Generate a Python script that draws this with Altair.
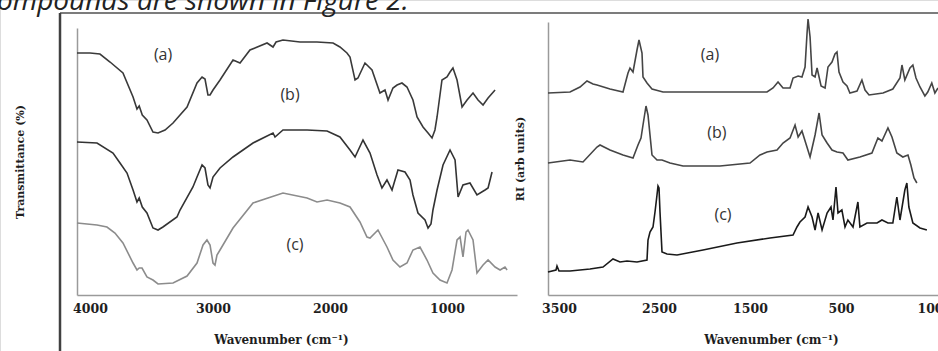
import altair as alt
import pandas as pd

caption = "ompounds are shown in Figure 2."

# ---- IR spectra (left panel): wavenumber (cm-1) and offset transmittance (arb.)
ir_a_wn = [4106,4000,3919,3837,3732,3650,3618,3600,3575,3537,3488,3447,3390,3325,3211,3130,3089,3065,3041,3024,3000,2940,2829,2769,2684,2538,2487,2461,2402,2256,2111,1974,1915,1855,1829,1786,1761,1701,1641,1573,1530,1504,1462,1427,1385,1342,1291,1256,1205,1162,1128,1103,1085,1043,1000,974,949,914,871,828,777,734,691,648,588]
ir_a_t = [242,242,241,233,222,198,186,189,180,175,163,162,165,172,188,212,218,216,200,200,205,215,235,232,245,252,248,253,255,253,253,252,248,242,238,215,217,232,225,202,205,195,207,210,212,208,195,178,168,162,157,165,178,215,218,223,227,215,188,195,202,195,190,197,205]

ir_b_wn = [4106,3943,3813,3756,3699,3650,3618,3600,3575,3537,3488,3447,3407,3293,3268,3163,3130,3089,3065,3041,3024,3000,2940,2829,2658,2487,2470,2402,2196,2025,1915,1829,1786,1718,1658,1598,1556,1513,1470,1419,1359,1316,1291,1248,1188,1162,1137,1120,1085,1034,974,931,905,863,803,743,674,648,614]
ir_b_t = [153,152,142,132,122,105,93,97,88,82,67,65,68,78,85,108,118,130,127,110,107,118,127,138,152,162,158,165,165,164,158,145,138,155,142,120,107,115,105,125,123,115,100,82,75,67,71,85,105,130,145,135,98,110,112,100,105,107,123]

ir_c_wn = [4106,3943,3862,3797,3732,3650,3618,3600,3577,3537,3488,3447,3325,3211,3130,3081,3049,3024,3000,2983,2966,2940,2829,2658,2402,2196,2111,2025,1915,1829,1744,1684,1658,1590,1513,1462,1402,1342,1291,1231,1171,1120,1060,1000,957,914,888,863,837,820,777,743,691,648,588,545,503,485]
ir_c_t = [72,70,68,62,52,32,25,27,27,18,15,11,12,19,32,50,55,50,32,30,40,45,67,92,102,97,93,95,92,88,73,58,57,65,48,35,28,32,45,48,35,22,15,12,25,55,58,38,63,65,55,22,30,35,28,25,28,25]

ir_label_text = ["(a)", "(b)", "(c)"]
ir_label_wn = [3406, 2342, 2299]
ir_label_t = [240, 200, 50]
ir_ticks = [4000, 3000, 2000, 1000]

# ---- Raman spectra (right panel): wavenumber (cm-1) and relative intensity (arb.)
ra_a_wn = [3610,3390,3290,3220,3160,3120,2990,2860,2810,2790,2760,2720,2700,2670,2660,2620,2570,2456,2016,1313,1247,1192,1137,1060,1027,971,929,895,873,862,840,818,785,763,719,675,643,599,566,544,522,491,473,460,428,406,392,374,311,267,235,226,213,190,177,163,145,123,110,92,78,64]
ra_a_i = [202,203,208,214,211,210,206,203,222,227,223,245,255,242,218,212,206,203,203,203,207,213,207,207,217,219,218,228,262,276,258,220,218,227,209,207,228,233,241,243,223,213,209,202,204,215,205,200,202,206,217,230,215,227,230,217,208,199,203,212,202,207]

ra_b_wn = [3610,3390,3260,3120,3090,2990,2860,2760,2710,2680,2660,2630,2610,2570,2520,2467,2379,2236,1830,1500,1390,1313,1203,1137,1060,1005,971,929,840,785,741,708,653,599,544,491,469,415,361,334,316,289,271,249,222,199,186,172,159]
ra_b_i = [132,135,133,148,150,145,140,137,150,157,170,189,180,140,135,135,132,129,129,132,140,143,145,152,157,170,158,164,138,160,182,160,152,145,143,142,135,138,142,157,154,167,158,142,138,140,130,117,112]

ra_c_wn = [3610,3530,3520,3500,3390,3190,3060,2960,2890,2820,2720,2620,2610,2590,2560,2540,2520,2510,2500,2489,2467,2412,2302,2016,1643,1280,1027,984,951,895,862,818,785,752,708,653,610,588,555,533,496,482,469,446,424,415,383,338,316,289,267,249,235,213,204,195,177,145,114]
ra_c_i = [23,25,29,24,24,26,28,36,33,34,33,35,55,63,68,83,100,109,107,83,43,41,40,45,52,57,60,68,73,78,88,78,65,82,65,82,88,75,108,82,85,68,75,68,93,68,72,72,75,72,72,98,75,105,112,88,72,67,65]

ra_label_text = ["(a)", "(b)", "(c)"]
ra_label_wn = [1940, 1863, 1797]
ra_label_i = [240, 162, 80]
ra_ticks = [3500, 2500, 1500, 500, 100]

series = ["a", "b", "c"]


def frame(wns, vals):
    rows = []
    for s, w, v in zip(series, wns, vals):
        for wi, vi in zip(w, v):
            rows.append({"wn": wi, "v": vi, "series": s})
    return pd.DataFrame(rows)


ir_df = frame([ir_a_wn, ir_b_wn, ir_c_wn], [ir_a_t, ir_b_t, ir_c_t])
ra_df = frame([ra_a_wn, ra_b_wn, ra_c_wn], [ra_a_i, ra_b_i, ra_c_i])
ir_lab = pd.DataFrame({"wn": ir_label_wn, "v": ir_label_t, "label": ir_label_text})
ra_lab = pd.DataFrame({"wn": ra_label_wn, "v": ra_label_i, "label": ra_label_text})

AXIS_COL = "#9a9a9a"
TXT = "#1e1e1e"
SERIF = "DejaVu Serif"


def xaxis(values, title_x):
    return alt.Axis(orient="bottom", offset=-56, values=values, format="d",
                    ticks=False, grid=False, domainColor=AXIS_COL, domainWidth=1.5,
                    labelFont=SERIF, labelFontWeight="bold", labelFontSize=12.5,
                    labelColor=TXT, labelPadding=7, labelFlush=False, labelOverlap=False,
                    title="Wavenumber (cm\u207b\u00b9)", titleFont=SERIF,
                    titleFontWeight="bold", titleFontSize=12, titleColor=TXT,
                    titleX=title_x, titleY=48, titleBaseline="alphabetic")


def yaxis(title, offset, pad):
    return alt.Axis(orient="left", offset=offset, labels=False, ticks=False, grid=False,
                    domainColor=AXIS_COL, domainWidth=1.5, title=title, titleFont=SERIF,
                    titleFontWeight="bold", titleFontSize=11, titleColor=TXT,
                    titlePadding=pad)


xl = alt.X("wn:Q", scale=alt.Scale(domain=[4106, 4000, 3000, 2000, 1000, 400],
                                   range=[77, 90, 213, 330, 447, 517], nice=False, zero=False),
           axis=xaxis(ir_ticks, 281))
yl = alt.Y("v:Q", scale=alt.Scale(domain=[0, 267], range=[295, 28], nice=False, zero=False),
           axis=yaxis("Transmittance (%)", -77, 52))
cl = alt.Color("series:N", scale=alt.Scale(domain=series, range=["#3a3a3a", "#333333", "#8c8c8c"]),
               legend=None)

left = alt.layer(
    alt.Chart(ir_df).mark_line(strokeWidth=1.6).encode(x=xl, y=yl, color=cl),
    alt.Chart(ir_lab).mark_text(font="Open Sans", fontSize=16, color="#333333").encode(x=xl, y=yl, text="label:N"),
)

xr = alt.X("wn:Q", scale=alt.Scale(domain=[3610, 3500, 2500, 1500, 500, 100, 64],
                                   range=[548, 559, 659, 750, 841, 930, 938], nice=False, zero=False),
           axis=xaxis(ra_ticks, 771))
yr = alt.Y("v:Q", scale=alt.Scale(domain=[0, 273], range=[295, 22], nice=False, zero=False),
           axis=yaxis("RI (arb units)", -548, 23))
cr = alt.Color("series:N", scale=alt.Scale(domain=series, range=["#454545", "#454545", "#1a1a1a"]),
               legend=None)

right = alt.layer(
    alt.Chart(ra_df).mark_line(strokeWidth=1.6).encode(x=xr, y=yr, color=cr),
    alt.Chart(ra_lab).mark_text(font="Open Sans", fontSize=16, color="#333333").encode(x=xr, y=yr, text="label:N"),
)

one = pd.DataFrame({"k": [0]})
frame_top = alt.Chart(one).mark_rule(color="#505050", strokeWidth=1.5).encode(
    x=alt.value(60), x2=alt.value(938), y=alt.value(13))
frame_left = alt.Chart(one).mark_rule(color="#404040", strokeWidth=2.5).encode(
    x=alt.value(60), y=alt.value(13), y2=alt.value(351))
cap = alt.Chart(pd.DataFrame({"t": [caption]})).mark_text(
    align="left", baseline="alphabetic", font="Open Sans", fontStyle="italic",
    fontSize=28, color="#222222").encode(x=alt.value(-3), y=alt.value(10), text="t:N")

chart = alt.layer(left, right, frame_top, frame_left, cap).resolve_scale(
    x="independent", y="independent", color="independent"
).properties(
    width=938, height=351, autosize=alt.AutoSizeParams(type="none"), padding=0
).configure_view(stroke=None).configure(background="white")

chart.save("out.html", embed_options={"renderer": "svg", "actions": False})
